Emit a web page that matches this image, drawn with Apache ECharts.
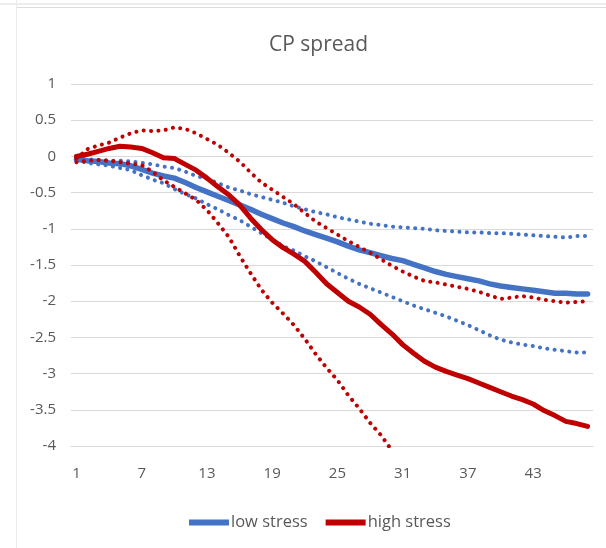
<!DOCTYPE html>
<html>
<head>
<meta charset="utf-8">
<script src="https://cdn.jsdelivr.net/npm/echarts@6/dist/echarts.min.js"></script>
<style>html,body{margin:0;padding:0;background:#fff;}#c{width:606px;height:548px;}</style>
</head>
<body>
<div id="c"></div>
<script>
var categories = ['1','2','3','4','5','6','7','8','9','10','11','12','13','14','15','16','17','18','19','20','21','22','23','24','25','26','27','28','29','30','31','32','33','34','35','36','37','38','39','40','41','42','43','44','45','46','47','48'];

var lowStress = [-0.04,-0.06,-0.07,-0.09,-0.10,-0.13,-0.18,-0.23,-0.27,-0.30,-0.36,-0.43,-0.49,-0.55,-0.61,-0.67,-0.73,-0.80,-0.86,-0.92,-0.97,-1.03,-1.08,-1.13,-1.18,-1.24,-1.29,-1.33,-1.37,-1.41,-1.44,-1.49,-1.54,-1.59,-1.63,-1.66,-1.69,-1.72,-1.76,-1.79,-1.81,-1.83,-1.85,-1.87,-1.89,-1.89,-1.90,-1.90];
var lowStressUpper = [-0.02,-0.04,-0.05,-0.06,-0.06,-0.07,-0.09,-0.11,-0.14,-0.16,-0.21,-0.27,-0.31,-0.37,-0.43,-0.47,-0.52,-0.56,-0.60,-0.64,-0.69,-0.73,-0.77,-0.80,-0.84,-0.87,-0.90,-0.93,-0.95,-0.97,-0.98,-0.99,-1.00,-1.02,-1.03,-1.04,-1.05,-1.05,-1.06,-1.06,-1.07,-1.08,-1.09,-1.10,-1.11,-1.12,-1.10,-1.10];
var lowStressLower = [-0.05,-0.09,-0.11,-0.13,-0.16,-0.19,-0.26,-0.32,-0.37,-0.45,-0.52,-0.58,-0.66,-0.73,-0.81,-0.88,-0.97,-1.06,-1.15,-1.24,-1.30,-1.38,-1.45,-1.53,-1.61,-1.69,-1.76,-1.82,-1.88,-1.94,-2.00,-2.06,-2.11,-2.16,-2.21,-2.27,-2.33,-2.40,-2.47,-2.53,-2.57,-2.60,-2.62,-2.65,-2.67,-2.69,-2.71,-2.71];

var highStress = [0.00,0.03,0.07,0.11,0.14,0.13,0.11,0.05,-0.02,-0.03,-0.11,-0.19,-0.30,-0.42,-0.53,-0.67,-0.85,-1.01,-1.15,-1.26,-1.35,-1.45,-1.60,-1.76,-1.88,-2.00,-2.08,-2.18,-2.32,-2.45,-2.60,-2.72,-2.83,-2.91,-2.97,-3.02,-3.07,-3.13,-3.19,-3.25,-3.31,-3.36,-3.42,-3.51,-3.58,-3.66,-3.69,-3.73];
var highStressUpper = [-0.03,0.10,0.15,0.19,0.26,0.32,0.36,0.35,0.36,0.40,0.38,0.32,0.24,0.16,0.05,-0.07,-0.22,-0.36,-0.46,-0.56,-0.66,-0.78,-0.90,-0.99,-1.08,-1.17,-1.25,-1.33,-1.42,-1.51,-1.59,-1.66,-1.72,-1.74,-1.77,-1.80,-1.83,-1.87,-1.92,-1.97,-1.95,-1.93,-1.95,-1.98,-2.00,-2.02,-2.01,-2.00];
var highStressLower = [-0.08,-0.06,-0.05,-0.06,-0.08,-0.10,-0.12,-0.21,-0.33,-0.42,-0.51,-0.60,-0.74,-0.92,-1.11,-1.37,-1.61,-1.84,-2.02,-2.17,-2.33,-2.52,-2.73,-2.92,-3.09,-3.30,-3.48,-3.68,-3.85,-4.06,null,null,null,null,null,null,null,null,null,null,null,null,null,null,null,null,null,null];

var yMin = -4, yMax = 1, yStep = 0.5;

var BLUE = '#4472C4', RED = '#C00000', TXT = '#595959', GRID = '#d9d9d9';
var FONT = 'Open Sans';

function solid(name, data, color, w) {
  return { name: name, type: 'line', data: data, symbol: 'none', smooth: false,
    lineStyle: { color: color, width: w, cap: 'round', join: 'round' },
    itemStyle: { color: color }, emphasis: { disabled: true } };
}
function dotted(name, data, color) {
  return { name: name, type: 'line', data: data, symbol: 'none', smooth: false, connectNulls: false,
    lineStyle: { color: color, width: 4, type: [0.1, 7.3], cap: 'round', join: 'round' },
    itemStyle: { color: color }, emphasis: { disabled: true } };
}

var chart = echarts.init(document.getElementById('c'), null, { renderer: 'canvas' });
chart.setOption({
  animation: false,
  backgroundColor: '#ffffff',
  textStyle: { fontFamily: FONT },
  title: { text: 'CP spread', left: 264, top: 30,
    textStyle: { fontFamily: FONT, fontSize: 21, fontWeight: 'normal', color: TXT } },
  legend: { data: ['low stress', 'high stress'], left: 184, top: 509, icon: 'rect',
    itemWidth: 40, itemHeight: 6, itemGap: 18,
    textStyle: { fontFamily: FONT, fontSize: 16.5, color: TXT, padding: [0, 0, 0, -3] } },
  grid: { left: 71, right: 13, top: 84, bottom: 102, containLabel: false },
  xAxis: { type: 'category', data: categories, boundaryGap: true,
    axisLine: { onZero: false, lineStyle: { color: GRID } },
    axisTick: { show: false },
    axisLabel: { interval: 5, margin: 20, color: TXT, fontFamily: FONT, fontSize: 15 } },
  yAxis: { type: 'value', min: yMin, max: yMax, interval: yStep,
    axisLine: { show: false }, axisTick: { show: false },
    splitLine: { lineStyle: { color: GRID, width: 1 } },
    axisLabel: { margin: 15, color: TXT, fontFamily: FONT, fontSize: 15 } },
  graphic: [
    { type: 'line', shape: { x1: 0, y1: 4, x2: 606, y2: 4 }, style: { stroke: '#dcdcdc', lineWidth: 1 }, silent: true },
    { type: 'line', shape: { x1: 16, y1: 7.5, x2: 606, y2: 7.5 }, style: { stroke: '#dcdcdc', lineWidth: 1 }, silent: true },
    { type: 'line', shape: { x1: 16.5, y1: 0, x2: 16.5, y2: 548 }, style: { stroke: '#ececec', lineWidth: 1 }, silent: true }
  ],
  series: [
    solid('low stress', lowStress, BLUE, 5.5),
    dotted('low stress upper', lowStressUpper, BLUE),
    dotted('low stress lower', lowStressLower, BLUE),
    solid('high stress', highStress, RED, 5),
    dotted('high stress upper', highStressUpper, RED),
    dotted('high stress lower', highStressLower, RED)
  ]
});
</script>
</body>
</html>
